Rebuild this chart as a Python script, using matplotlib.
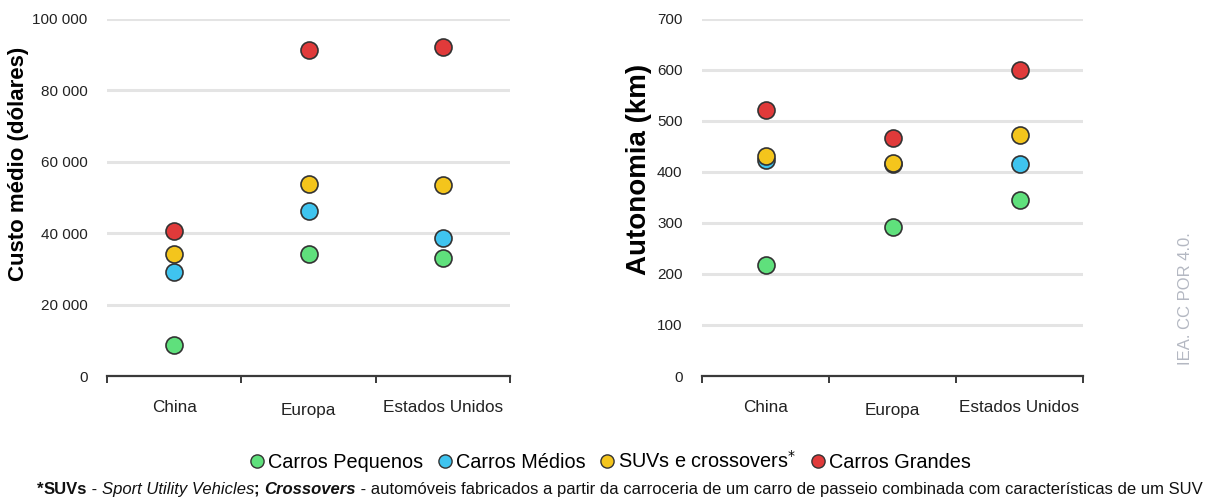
import matplotlib
matplotlib.use("Agg")
import matplotlib.pyplot as plt
from matplotlib.lines import Line2D
from matplotlib.transforms import ScaledTranslation

plt.rcParams['font.family'] = ['Liberation Sans', 'DejaVu Sans']

regions = ["China", "Europa", "Estados Unidos"]
series = ["Carros Pequenos", "Carros Médios", "SUVs e crossovers", "Carros Grandes"]
colors = ["#5fe07c", "#3fc4ef", "#f4c51c", "#e03a3a"]

# custo médio (dólares)
cost_small = [8700, 34200, 33000]
cost_medium = [29100, 46200, 38700]
cost_suv = [34200, 53800, 53500]
cost_large = [40500, 91300, 92200]

# autonomia (km)
range_small = [218, 292, 345]
range_medium = [424, 415, 416]
range_suv = [431, 418, 473]
range_large = [521, 467, 600]

cost_ticks = [0, 20000, 40000, 60000, 80000, 100000]
range_ticks = [0, 100, 200, 300, 400, 500, 600, 700]

W, H = 1209, 499
fig = plt.figure(figsize=(W / 100, H / 100), dpi=100)

def px_axes(x0, x1, y0, y1):
    return fig.add_axes([x0 / W, 1 - y1 / H, (x1 - x0) / W, (y1 - y0) / H])

def fmt(v):
    return f"{v:,}".replace(",", " ")

def style(ax, ticks, ymax):
    ax.set_xlim(0, 3)
    ax.set_ylim(0, ymax)
    for s in ["top", "right", "left"]:
        ax.spines[s].set_visible(False)
    ax.spines["bottom"].set_color("#3a3a3a")
    ax.spines["bottom"].set_linewidth(1.6)
    ax.set_yticks(ticks)
    ax.set_yticklabels([fmt(t) for t in ticks], fontsize=11, color="#222222")
    ax.tick_params(axis="y", length=0, pad=14)
    for t in ticks[1:]:
        ax.axhline(t, color="#e4e4e4", lw=2.2, zorder=0)
    ax.set_xticks([0, 1, 2, 3])
    ax.set_xticklabels([])
    ax.tick_params(axis="x", which="major", length=5, width=1.4, color="#3a3a3a", direction="out")
    ax.set_xticks([0.5, 1.5, 2.5], minor=True)
    ax.set_xticklabels(regions, minor=True, fontsize=12.3, color="#222222")
    ax.tick_params(axis="x", which="minor", length=0, pad=17)
    labs = ax.get_xticklabels(minor=True)
    labs[1].set_transform(labs[1].get_transform() + ScaledTranslation(0, -3 / 100, fig.dpi_scale_trans))

xpos = [0.5, 1.5, 2.5]

ax1 = px_axes(107, 510, 19, 376)
style(ax1, cost_ticks, 100000)
for vals, c in zip([cost_small, cost_medium, cost_suv, cost_large], colors):
    ax1.scatter(xpos, vals, s=150, color=c, edgecolor="#333333", linewidth=1.2, zorder=3, clip_on=False)
ax1.set_ylabel("Custo médio (dólares)", fontsize=16, fontweight="bold")
ax1.yaxis.set_label_coords((29 - 107) / 403, 0.595)

ax2 = px_axes(702, 1083, 19, 376)
style(ax2, range_ticks, 700)
for vals, c in zip([range_small, range_medium, range_suv, range_large], colors):
    ax2.scatter(xpos, vals, s=150, color=c, edgecolor="#333333", linewidth=1.2, zorder=3, clip_on=False)
ax2.set_ylabel("Autonomia (km)", fontsize=20, fontweight="bold")
ax2.yaxis.set_label_coords((652 - 702) / 381, 0.58)

fig.text(1186 / W, 1 - 299 / H, "IEA. CC POR 4.0.", rotation=90, ha="center", va="center",
         fontsize=12, color="#b4b8c2")

legend_labels = ["Carros Pequenos", "Carros Médios", "SUVs e crossovers$^{*}$", "Carros Grandes"]
handles = [Line2D([], [], marker="o", linestyle="none", markersize=9.5, markerfacecolor=c,
                  markeredgecolor="#333333", markeredgewidth=1.0) for c in colors]
fig.legend(handles, legend_labels, loc="center", bbox_to_anchor=(609 / W, 1 - 461 / H), ncol=4,
           frameon=False, fontsize=14.3, handletextpad=0.05, columnspacing=0.6, handlelength=1.0,
           borderaxespad=0, borderpad=0)

# footnote with mixed styles
parts = [
    ("*", "bold", "normal"),
    ("SUVs", "bold", "normal"),
    (" - ", "normal", "normal"),
    ("Sport Utility Vehicles", "normal", "italic"),
    ("; ", "bold", "normal"),
    ("Crossovers", "bold", "italic"),
    (" - automóveis fabricados a partir da carroceria de um carro de passeio combinada com características de um SUV",
     "normal", "normal"),
]
fs = 12
prev = fig.text(37 / W, 1 - 497 / H, parts[0][0], fontsize=fs, fontweight=parts[0][1],
                fontstyle=parts[0][2], ha="left", va="bottom", color="#111111")
for txt, wt, st in parts[1:]:
    prev = plt.annotate(txt, xy=(1, 0), xycoords=prev, ha="left", va="bottom", fontsize=fs,
                        fontweight=wt, fontstyle=st, color="#111111", annotation_clip=False)

fig.savefig("out.png", dpi=100)
